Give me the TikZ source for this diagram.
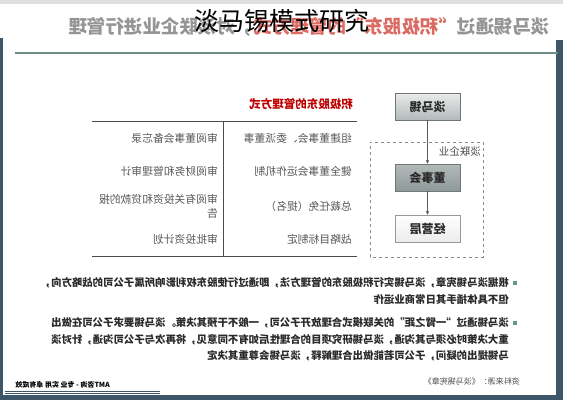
\documentclass[tikz,border=0pt]{standalone}
\usepackage{fontspec}
\setmainfont{Noto Sans CJK SC}
\usetikzlibrary{arrows.meta}

\definecolor{frameblue}{HTML}{3E566A}
\definecolor{headgray}{HTML}{959595}
\definecolor{headred}{HTML}{DB6A62}
\definecolor{rulegreen}{HTML}{6F8F86}
\definecolor{textdark}{HTML}{2A2A2A}
\definecolor{boxedge}{HTML}{6E7878}
\definecolor{dotgreen}{HTML}{5F9A8C}

\tikzset{
  orgbox/.style={draw=boxedge, minimum width=65pt, minimum height=27pt,
    font=\fontsize{12}{12}\selectfont\bfseries, text=textdark},
  celltext/.style={anchor=west, inner sep=0pt, text=black!65,
    font=\fontsize{10.8}{14}\selectfont},
  flow/.style={-{Stealth[length=4pt,width=3.5pt]}, draw=black!65, line width=0.6pt},
  bullettext/.style={anchor=north west, inner sep=0pt, align=left, text=textdark,
    font=\fontsize{10.4}{16.5}\selectfont\bfseries},
}

\begin{document}
\begin{tikzpicture}[x=1pt,y=-1pt]
    \useasboundingbox (0,0) rectangle (563,400);
    % frame of the slide
    \fill[white] (0,0) rectangle (563,400);
    \fill[gray!25] (0,0) rectangle (563,4);
    \fill[frameblue] (0,38) rectangle (3,400);
    \fill[frameblue] (556,40) rectangle (563,400);
    \fill[frameblue] (0,395) rectangle (563,400);

    % the slide itself is printed mirrored
    \begin{scope}[xshift=563pt, xscale=-1, transform shape]
        \node[anchor=west, inner sep=0pt, text=headgray,
            font=\fontsize{18.5}{18.5}\selectfont\bfseries] (head) at (13,27)
            {淡马锡通过\textcolor{headred}{“积极股东”的管理方式}，对淡联企业进行管理};
        \draw[rulegreen, line width=1.6pt] (5,53) -- (548,53);

        % table
        \node[anchor=west, inner sep=0pt, text=red!75!black,
            font=\fontsize{11.5}{11.5}\selectfont\bfseries] (tabhead) at (210,104) {积极股东的管理方式};
        \draw[black!70, line width=0.8pt] (206,121) -- (471,121);
        \draw[black!70, line width=0.8pt] (206,256) -- (471,256);
        \draw[black!70, line width=0.8pt] (340,121) -- (340,256);
        \node[celltext] (a1) at (211,138) {组建董事会、委派董事};
        \node[celltext] (a2) at (211,171) {健全董事会运作机制};
        \node[celltext] (a3) at (211,206) {总裁任免（提名）};
        \node[celltext] (a4) at (211,239) {战略目标制定};
        \node[celltext] (b1) at (345,138) {审阅董事会备忘录};
        \node[celltext] (b2) at (345,171) {审阅财务和管理审计};
        \node[celltext, align=left] (b3) at (345,206) {审阅有关投资和贷款的报\\告};
        \node[celltext] (b4) at (345,239) {审批投资计划};

        % chart
        \draw[black!45, dashed, line width=0.7pt] (80,142) rectangle (193,257);
        \node[anchor=west, inner sep=0pt, text=textdark!85,
            font=\fontsize{10.5}{10.5}\selectfont] (tlc) at (82,152) {淡联企业};
        \node[orgbox, top color=gray!15, bottom color=teal!10!gray!55] (dms) at (135.5,106.5) {淡马锡};
        \node[orgbox, top color=teal!10!gray!55, bottom color=teal!10!gray!80] (dsh) at (135.5,177.5) {董事会};
        \node[orgbox, draw=black!40, top color=white, bottom color=gray!15] (jyc) at (135.5,228.5) {经营层};
        \draw[flow] (dms) -- (dsh);
        \draw[flow] (dsh) -- (jyc);

        % notes
        \fill[dotgreen] (46,281) rectangle (50,285);
        \fill[dotgreen] (46,321) rectangle (50,325);
        \node[bullettext] (note1) at (54,277.5)
            {根据淡马锡宪章，淡马锡实行积极股东的管理方法，即通过行使股东权利影响所属子公司的战略方向，\\
             但不具体插手其日常商业运作};
        \node[bullettext] (note2) at (54,317.5)
            {淡马锡通过“一臂之距”的关联模式合理放开子公司，一般不干预其决策。淡马锡要求子公司在做出\\
             重大决策时必须与其沟通，淡马锡研究项目的合理性后如有不同意见，将再次与子公司沟通，针对淡\\
             马锡提出的疑问，子公司若能做出合理解释，淡马锡会尊重其决定};

        % footer
        \node[anchor=west, inner sep=0pt, text=black!70,
            font=\fontsize{8}{8}\selectfont] (src) at (43,381) {资料来源：《淡马锡宪章》};
        \node[anchor=west, inner sep=0pt, text=black,
            font=\fontsize{7}{7}\selectfont\bfseries] (brand) at (453,385) {AMT咨询 - 专业 实用 卓有成效};
        \draw[frameblue, line width=0.8pt] (403,391) -- (558,391);
        \draw[frameblue, line width=0.8pt] (403,393.5) -- (558,393.5);
    \end{scope}

    \node[font=\fontsize{25}{25}\selectfont, text=black, inner sep=0pt] (title) at (282,21) {淡马锡模式研究};
\end{tikzpicture}
\end{document}
